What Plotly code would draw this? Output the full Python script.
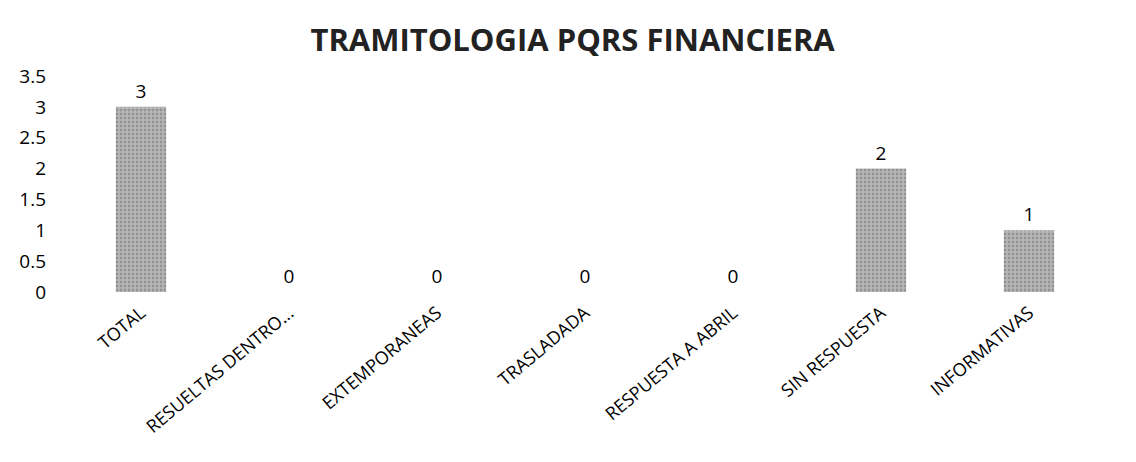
import plotly.graph_objects as go

categories = ["TOTAL", "RESUELTAS DENTRO...", "EXTEMPORANEAS", "TRASLADADA",
              "RESPUESTA A ABRIL", "SIN RESPUESTA", "INFORMATIVAS"]
values = [3, 0, 0, 0, 0, 2, 1]
y_ticks = [0, 0.5, 1, 1.5, 2, 2.5, 3, 3.5]

fig = go.Figure(go.Bar(
    x=categories, y=values,
    text=[str(v) for v in values], textposition="outside",
    textfont=dict(size=19, color="black", family="Open Sans"),
    marker=dict(color="#a9a9a9", line=dict(width=0),
                pattern=dict(shape=".", fgcolor="#6e6e6e", bgcolor="#b8b8b8", size=4, solidity=0.4)),
    cliponaxis=False,
))

fig.update_layout(
    width=1136, height=462,
    paper_bgcolor="white", plot_bgcolor="white",
    margin=dict(l=59, r=41, t=68, b=178),
    bargap=0.66,
    showlegend=False,
    title=dict(text="<b>TRAMITOLOGIA PQRS FINANCIERA</b>", x=0.497, xanchor="center",
               y=0.93, yanchor="middle",
               font=dict(size=31, color="#222222", family="Open Sans")),
    font=dict(family="Open Sans", color="black"),
)
fig.update_yaxes(range=[0, 3.5], tickvals=y_ticks, ticktext=["0", "0.5", "1", "1.5", "2", "2.5", "3", "3.5"],
                 showgrid=False, zeroline=False, showline=False, automargin=False,
                 tickfont=dict(size=19, color="black"), ticklabelstandoff=20)
fig.update_xaxes(tickangle=-40, showgrid=False, showline=False, automargin=False,
                 tickfont=dict(size=18, color="black"), ticklabelstandoff=6)

fig.write_html("out.html")
